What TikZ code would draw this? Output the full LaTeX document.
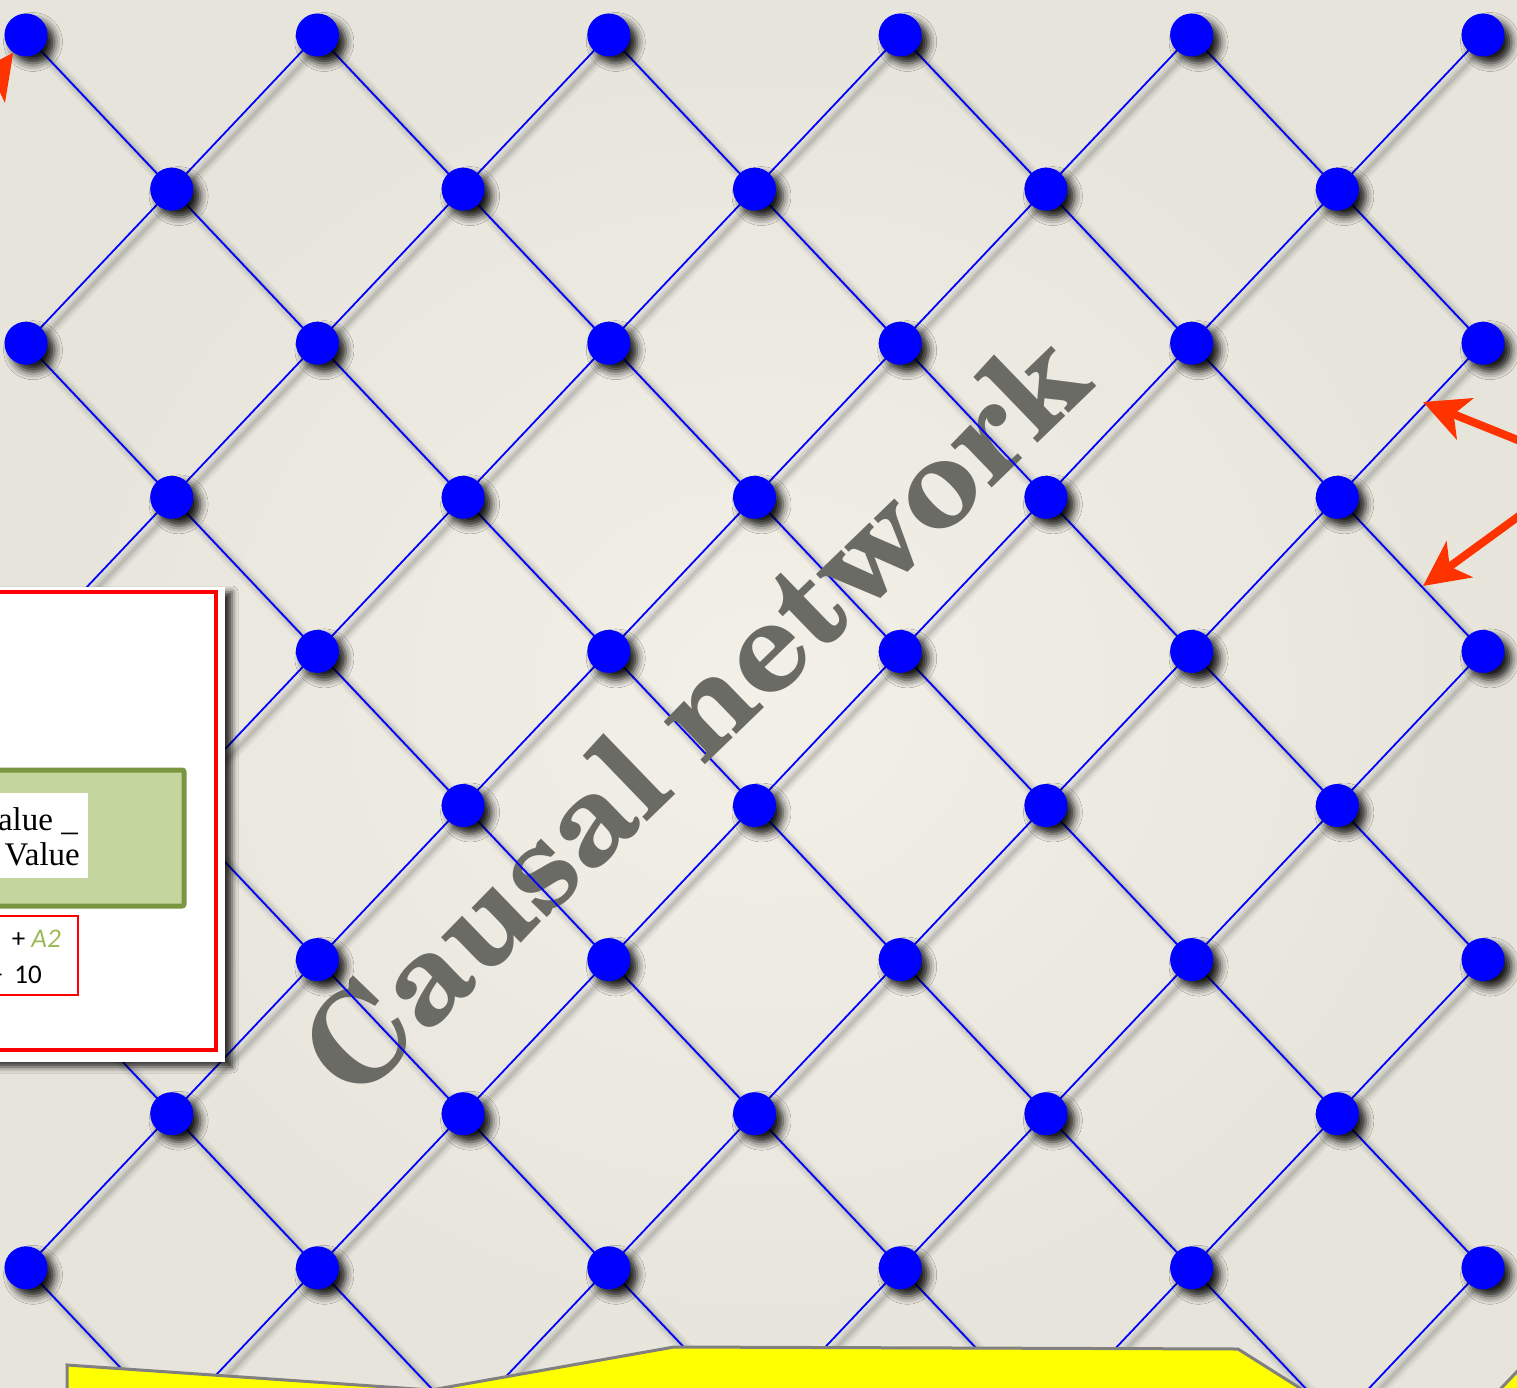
\documentclass[tikz,border=0pt]{standalone}
\usepackage{fontspec}
\usetikzlibrary{arrows.meta,shadows.blur}
\newfontfamily\titlefont{texgyreschola-bold.otf}
\newfontfamily\bodyserif{Liberation Serif}
\newfontfamily\bodysans{Carlito}
\definecolor{bgA}{RGB}{242,240,231}
\definecolor{bgB}{RGB}{230,228,219}
\definecolor{dotblue}{RGB}{0,0,255}
\definecolor{arrowred}{RGB}{255,51,0}
\definecolor{titlegray}{RGB}{107,107,102}
\definecolor{greenfill}{RGB}{196,214,158}
\definecolor{greenline}{RGB}{122,150,64}
\definecolor{olivetext}{RGB}{155,187,89}
\definecolor{polyyellow}{RGB}{255,255,0}
\definecolor{polygray}{RGB}{128,128,128}
\definecolor{panelred}{RGB}{255,0,0}
\begin{document}
\begin{tikzpicture}[x=1pt,y=-1pt,
  dot/.style={circle,fill=dotblue,minimum size=43pt,inner sep=0pt,
    blur shadow={shadow xshift=7pt,shadow yshift=-7pt,shadow blur radius=8pt,shadow opacity=90}},
  link/.style={draw=dotblue,line width=1.8pt},
  redarrow/.style={draw=arrowred,line width=8pt,-{Stealth[length=45pt,width=44pt,inset=12pt]}},
  panelbox/.style={fill=white,inner sep=0pt,
    blur shadow={shadow xshift=7pt,shadow yshift=-5pt,shadow blur radius=6pt,shadow opacity=80}},
  polyshape/.style={fill=polyyellow,draw=polygray,line width=3pt,line join=miter}
]
\useasboundingbox (0,0) rectangle (1517,1388);
\clip (0,0) rectangle (1517,1388);
\shade[inner color=bgA,outer color=bgB] (0,0) rectangle (1517,1388);

% lattice coordinates
\foreach \r in {0,...,9}{
  \foreach \c in {0,...,10}{
    \pgfmathtruncatemacro\parity{mod(\c+\r,2)}
    \ifnum\parity=0
      \coordinate (p-\c-\r) at ({26+145.7*\c},{35+154.1*\r});
    \fi
  }
}

% line shadows
\foreach \w/\o in {14/0.04,9/0.06,4/0.09}{
  \foreach \r in {0,...,8}{
    \foreach \c in {0,...,10}{
      \pgfmathtruncatemacro\parity{mod(\c+\r,2)}
      \pgfmathtruncatemacro\rnext{\r+1}
      \pgfmathtruncatemacro\cprev{\c-1}
      \pgfmathtruncatemacro\cnext{\c+1}
      \ifnum\parity=0
        \ifnum\c<10
          \draw[black,line width=\w pt,opacity=\o] ([shift={(6,6)}]p-\c-\r) -- ([shift={(6,6)}]p-\cnext-\rnext);
        \fi
        \ifnum\c>0
          \draw[black,line width=\w pt,opacity=\o] ([shift={(6,6)}]p-\c-\r) -- ([shift={(6,6)}]p-\cprev-\rnext);
        \fi
      \fi
    }
  }
}

% lines (three down-right segments are drawn later, above the title)
\foreach \r in {0,...,8}{
  \foreach \c in {0,...,10}{
    \pgfmathtruncatemacro\parity{mod(\c+\r,2)}
    \pgfmathtruncatemacro\rnext{\r+1}
    \pgfmathtruncatemacro\cprev{\c-1}
    \pgfmathtruncatemacro\cnext{\c+1}
    \pgfmathtruncatemacro\skipseg{((\c*100+\r)==602)||((\c*100+\r)==305)||((\c*100+\r)==206)}
    \ifnum\parity=0
      \ifnum\c<10
        \ifnum\skipseg=0
          \draw[link] (p-\c-\r) -- (p-\cnext-\rnext);
        \fi
      \fi
      \ifnum\c>0
        \draw[link] (p-\c-\r) -- (p-\cprev-\rnext);
      \fi
    \fi
  }
}

% title
\node[font=\titlefont\fontsize{127}{127}\selectfont,text=titlegray,rotate=44,anchor=base,inner sep=0pt] (title) at (726,745) {Causal network};

% segments lying over the title
\draw[link] (p-6-2) -- (p-7-3);
\draw[link] (p-3-5) -- (p-4-6);
\draw[link] (p-2-6) -- (p-3-7);

% dots
\foreach \r in {0,...,8}{
  \foreach \c in {0,...,10}{
    \pgfmathtruncatemacro\parity{mod(\c+\r,2)}
    \ifnum\parity=0
      \node[dot] (n-\c-\r) at (p-\c-\r) {};
    \fi
  }
}

% left panel
\node[panelbox,minimum width=325pt,minimum height=475pt] (panel) at (62.5,824.5) {};
\draw[panelred,line width=4.5pt] (-100,592) rectangle (216,1050);
\draw[greenline,fill=greenfill,line width=5pt,rounded corners=2pt] (-100,770) rectangle (184,906);
\fill[white] (-100,793) rectangle (88,878);
\node[anchor=base east,inner sep=0pt,font=\bodyserif\fontsize{33}{33}\selectfont] (lab1) at (78,830) {alue \_};
\node[anchor=base east,inner sep=0pt,font=\bodyserif\fontsize{33}{33}\selectfont] (lab2) at (80,865) {Value};
\draw[panelred,line width=1.5pt] (-100,916) rectangle (78,995);
\node[anchor=base east,inner sep=0pt,font=\bodysans\fontsize{27}{27}\selectfont] (frm1) at (61,947) {+ \textcolor{olivetext}{\itshape A2}};
\node[anchor=base east,inner sep=0pt,font=\bodysans\fontsize{27}{27}\selectfont] (frm2) at (42,983) {+\hspace{12pt}10};

% red arrows
\coordinate (a0s) at (-62,157);
\draw[redarrow] (a0s) -- (n-0-0);
\coordinate (a1s) at (1545,451);
\coordinate (a1e) at (1423,402);
\draw[redarrow] (a1s) -- (a1e);
\coordinate (a2s) at (1545,497);
\coordinate (a2e) at (1423,586);
\draw[redarrow] (a2s) -- (a2e);

% yellow shapes
\draw[polyshape] (67,1430) -- (67,1365) -- (431,1390) -- (674,1347) -- (1238,1349) -- (1303,1390) -- (1330,1430) -- cycle;
\draw[polyshape] (1488,1402) -- (1528,1360) -- (1528,1402) -- cycle;
\end{tikzpicture}
\end{document}
